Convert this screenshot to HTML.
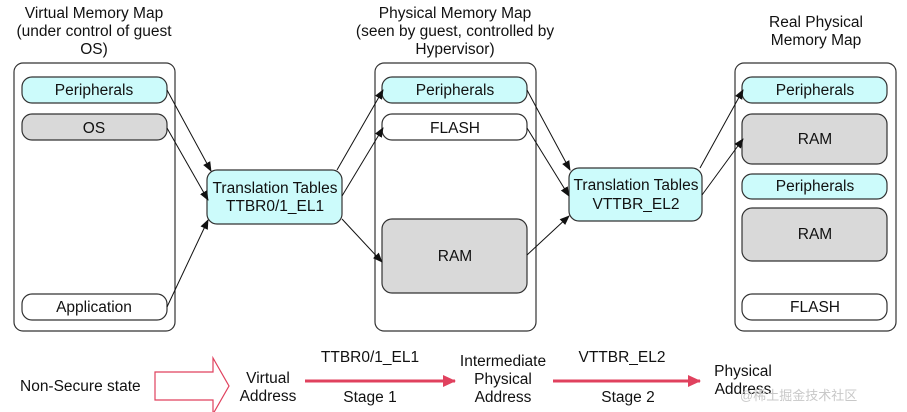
<!DOCTYPE html>
<html><head><meta charset="utf-8"><style>
html,body{margin:0;padding:0;background:#fff;}
svg{display:block;}
text{font-family:"Liberation Sans","Noto Sans CJK SC",sans-serif;font-size:15.5px;fill:#111;}
</style></head><body>
<svg width="907" height="412" viewBox="0 0 907 412" xmlns="http://www.w3.org/2000/svg">
<defs>
<marker id="ah" markerWidth="10" markerHeight="10" refX="9" refY="4" orient="auto" markerUnits="userSpaceOnUse">
<path d="M0,0 L10,4 L0,8 z" fill="#111"/></marker>
<marker id="rh" markerWidth="14" markerHeight="14" refX="12" refY="6" orient="auto" markerUnits="userSpaceOnUse">
<path d="M0,0 L13,6 L0,12 z" fill="#e0415e"/></marker>
</defs>
<g text-anchor="middle">
<text x="94" y="18">Virtual Memory Map</text>
<text x="94" y="36">(under control of guest</text>
<text x="94" y="54">OS)</text>
<text x="455" y="18">Physical Memory Map</text>
<text x="455" y="36">(seen by guest, controlled by</text>
<text x="455" y="54">Hypervisor)</text>
<text x="816" y="27">Real Physical</text>
<text x="816" y="45">Memory Map</text>
</g>
<g stroke="#333" stroke-width="1.2">
<rect x="14" y="63" width="161" height="268" rx="9" fill="#fff"/>
<rect x="375" y="63" width="161" height="268" rx="9" fill="#fff"/>
<rect x="735" y="63" width="161" height="268" rx="9" fill="#fff"/>
<rect x="22" y="77" width="145" height="26" rx="10" fill="#ccfbfb"/>
<rect x="22" y="114" width="145" height="26" rx="10" fill="#d9d9d9"/>
<rect x="22" y="294" width="145" height="26" rx="10" fill="#fff"/>
<rect x="382" y="77" width="145" height="26" rx="10" fill="#ccfbfb"/>
<rect x="382" y="114" width="145" height="26" rx="10" fill="#fff"/>
<rect x="382" y="219" width="145" height="74" rx="10" fill="#d9d9d9"/>
<rect x="742" y="77" width="145" height="26" rx="10" fill="#ccfbfb"/>
<rect x="742" y="114" width="145" height="50" rx="10" fill="#d9d9d9"/>
<rect x="742" y="174" width="145" height="25" rx="10" fill="#ccfbfb"/>
<rect x="742" y="208" width="145" height="53" rx="10" fill="#d9d9d9"/>
<rect x="742" y="294" width="145" height="26" rx="10" fill="#fff"/>
<rect x="207" y="170" width="135" height="54" rx="10" fill="#ccfbfb"/>
<rect x="569" y="168" width="133" height="53" rx="10" fill="#ccfbfb"/>
</g>
<g text-anchor="middle">
<text x="94" y="95">Peripherals</text>
<text x="94" y="133">OS</text>
<text x="94" y="312">Application</text>
<text x="455" y="95">Peripherals</text>
<text x="455" y="133">FLASH</text>
<text x="455" y="261">RAM</text>
<text x="815" y="95">Peripherals</text>
<text x="815" y="144">RAM</text>
<text x="815" y="191">Peripherals</text>
<text x="815" y="239">RAM</text>
<text x="815" y="312">FLASH</text>
<text x="275" y="193">Translation Tables</text>
<text x="275" y="211">TTBR0/1_EL1</text>
<text x="636" y="190">Translation Tables</text>
<text x="636" y="209">VTTBR_EL2</text>
</g>
<g stroke="#111" stroke-width="1" fill="none" marker-end="url(#ah)">
<line x1="167" y1="90" x2="211" y2="171"/>
<line x1="167" y1="128" x2="208" y2="200"/>
<line x1="167" y1="307" x2="208" y2="220"/>
<line x1="337" y1="170" x2="383" y2="90"/>
<line x1="342" y1="196" x2="383" y2="128"/>
<line x1="342" y1="219" x2="382" y2="262"/>
<line x1="527" y1="90" x2="570" y2="170"/>
<line x1="527" y1="128" x2="569" y2="196"/>
<line x1="527" y1="255" x2="569" y2="216"/>
<line x1="700" y1="168" x2="743" y2="90"/>
<line x1="702" y1="195" x2="743" y2="139"/>
</g>
<text x="20" y="391">Non-Secure state</text>
<path d="M155,372 L213,372 L213,358 L229,386 L213,414 L213,400 L155,400 Z" fill="#fff" stroke="#e0415e" stroke-width="1.2"/>
<g text-anchor="middle">
<text x="268" y="383">Virtual</text>
<text x="268" y="401">Address</text>
<text x="370" y="362">TTBR0/1_EL1</text>
<text x="370" y="402">Stage 1</text>
<text x="503" y="366">Intermediate</text>
<text x="503" y="384">Physical</text>
<text x="503" y="402">Address</text>
<text x="622" y="362">VTTBR_EL2</text>
<text x="628" y="402">Stage 2</text>
<text x="743" y="376">Physical</text>
<text x="743" y="394">Address</text>
</g>
<line x1="305" y1="381" x2="455" y2="381" stroke="#e0415e" stroke-width="3" marker-end="url(#rh)"/>
<line x1="553" y1="381" x2="700" y2="381" stroke="#e0415e" stroke-width="3" marker-end="url(#rh)"/>
<text x="740" y="400" style="fill:#c8c8c8;font-size:13px">@稀土掘金技术社区</text>
</svg>
</body></html>
